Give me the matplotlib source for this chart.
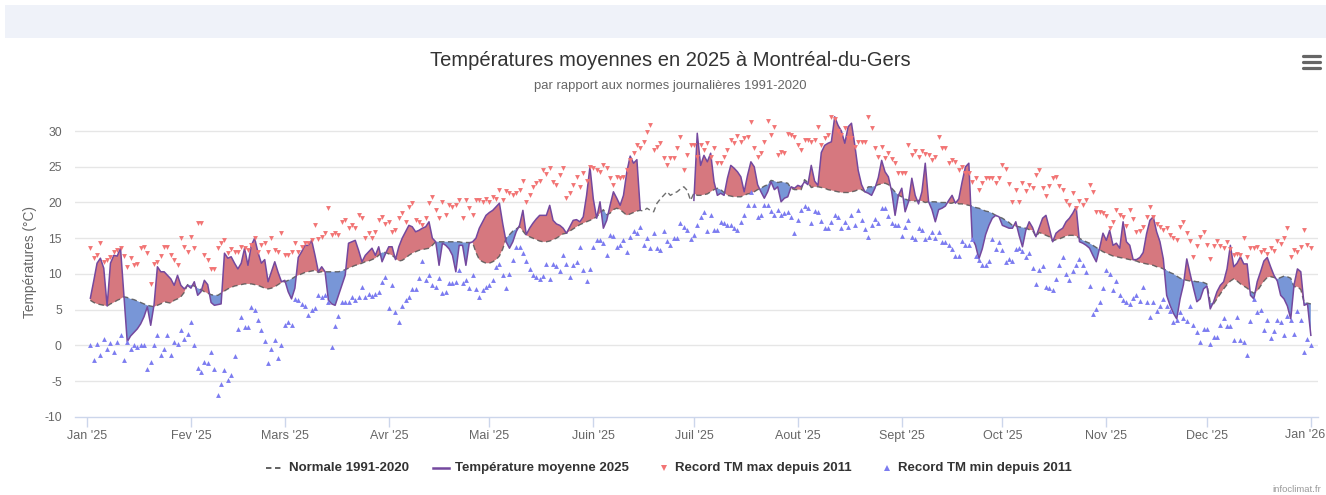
import numpy as np
import pandas as pd
import matplotlib
matplotlib.use("Agg")
import matplotlib.pyplot as plt
from matplotlib.lines import Line2D
from matplotlib.patches import Rectangle

plt.rcParams['font.family'] = ['Liberation Sans', 'DejaVu Sans']

nan = np.nan
YEAR_START = pd.Timestamp('2025-01-01')

# ---------------- data (daily values, 1 Jan -> 31 Dec 2025) ----------------
temp_2025 = [
    6.6, 9.0, 11.5, 12.2, 10.8, 5.5, 11.5, 12.6, 12.5, 13.6, 7.0, 0.5, 1.3, 1.8, 2.3, 3.0, 4.0, 5.4, 2.8, 5.7,
    11.0, 10.3, 10.3, 9.8, 9.3, 8.4, 9.8, 8.4, 7.9, 8.4, 8.0,
    8.9, 7.0, 7.5, 9.1, 8.5, 6.0, 5.6, 5.7, 5.8, 12.9, 12.2, 12.4, 11.5, 10.7, 11.5, 13.6, 11.2, 14.0, 15.0,
    13.0, 11.5, 12.0, 8.9, 10.3, 11.7, 10.2, 8.9, 9.1,
    7.5, 6.5, 8.0, 12.3, 13.1, 14.0, 14.0, 14.7, 12.6, 10.3, 11.0, 10.3, 6.3, 5.8, 5.6, 7.0, 8.4, 9.8, 14.3, 14.5,
    14.7, 13.3, 11.7, 12.6, 13.1, 13.6, 12.6, 13.8, 11.7, 12.8, 13.8,
    13.8, 12.0, 13.8, 15.0, 15.9, 16.8, 16.6, 15.9, 16.1, 16.4, 16.6, 17.3, 15.0, 14.5, 11.2, 14.3, 14.0, 13.5,
    12.6, 10.3, 14.0, 14.0, 11.2, 14.3, 14.5, 15.0, 16.4, 17.3, 18.2, 18.6,
    18.9, 19.4, 19.9, 17.0, 14.5, 13.6, 14.5, 15.9, 16.8, 18.9, 15.5, 16.4, 17.1, 17.7, 18.2, 18.2, 18.2, 19.6,
    17.5, 17.0, 16.8, 16.4, 15.7, 16.6, 17.5, 17.6, 17.3, 18.0, 21.0, 25.0, 20.5,
    17.8, 20.1, 16.4, 17.5, 19.6, 21.5, 20.6, 19.6, 21.0, 24.3, 26.5, 25.5, 26.0, 19.0,
    nan, nan, nan, nan, nan, nan, nan, nan, nan, nan, nan, nan, nan, nan, nan, 20.3,
    29.7, 25.2, 26.6, 25.7, 26.9, 22.9, 21.0, 21.3, 21.0, 23.4, 25.2, 24.8, 24.3, 23.6, 21.5, 23.8, 25.7, 25.0,
    22.5, 21.5, 20.6, 21.5, 22.9, 21.8, 22.2, 20.1, 20.6, 20.8, 22.2, 22.0, 22.4,
    22.2, 22.9, 22.5, 25.2, 23.0, 22.4, 27.0, 28.0, 28.3, 28.5, 32.0, 30.8, 30.0, 28.3, 30.6, 31.1, 28.0, 24.5,
    22.5, 21.5, 21.3, 21.0, 22.0, 23.5, 25.9, 24.3, 23.6, 21.5, 18.2, 21.0, 22.0,
    18.7, 20.1, 23.4, 21.0, 19.8, 21.5, 25.5, 20.1, 19.0, 17.3, 19.0, 19.2, 19.5, 20.3, 21.0, 19.9, 20.5, 22.9,
    25.0, 25.5, 15.0, 14.0, 12.1, 13.5, 15.5, 16.8, 17.8, 18.2, 18.0, 16.8,
    16.6, 16.4, 16.4, 17.3, 15.4, 13.8, 16.1, 17.3, 16.5, 15.2, 16.5, 17.8, 18.2, 16.4, 14.5, 15.7, 16.1, 16.4,
    17.3, 17.8, 18.5, 19.4, 14.5, 14.3, 14.0, 13.6, 12.6, 11.7, 13.6, 15.7, 14.7,
    16.1, 14.0, 14.3, 13.6, 17.3, 14.5, 14.0, 12.0, 12.0, 12.3, 13.0, 15.6, 17.5, 18.0, 15.9, 14.5, 12.1, 7.0,
    5.6, 4.5, 3.7, 6.5, 8.5, 12.1, 10.0, 8.0, 6.1, 6.5, 7.9, 8.3,
    5.1, 6.1, 7.5, 8.4, 8.9, 10.7, 14.0, 11.0, 11.5, 12.4, 11.4, 11.4, 7.0, 6.5, 8.9, 10.3, 11.8, 12.3, 11.0,
    9.8, 9.0, 7.0, 6.5, 5.5, 3.7, 8.5, 10.7, 10.3, 5.6, 5.8, 1.4,
]

normal_1991_2020 = [
    6.3, 6.0, 5.8, 5.7, 5.6, 5.5, 5.8, 6.0, 6.3, 6.5, 6.8, 6.7, 6.5, 6.4, 6.2, 6.0, 5.8, 5.6, 5.5, 5.4,
    5.6, 5.8, 6.1, 6.0, 5.9, 6.3, 6.5, 6.8, 7.4, 8.5, 8.4,
    8.3, 8.0, 7.8, 7.5, 7.3, 7.1, 7.0, 7.0, 7.3, 7.6, 7.9, 8.1, 8.3, 8.4, 8.5, 8.6, 8.6, 8.6, 8.5,
    8.4, 8.2, 8.0, 7.9, 8.0, 8.2, 8.5, 8.8, 8.9,
    9.1, 9.3, 9.6, 9.8, 10.0, 10.2, 10.3, 10.4, 10.5, 10.2, 10.3, 10.3, 10.3, 10.3, 10.3, 10.3, 10.4, 10.6, 10.8,
    11.0, 11.2, 11.3, 11.5, 11.7, 11.8, 12.0, 12.2, 12.6, 13.0, 13.0, 12.8,
    12.6, 12.2, 11.8, 11.9, 12.2, 12.6, 12.9, 13.1, 13.3, 13.4, 13.5, 13.6, 14.0, 14.5, 14.5, 14.5, 14.5, 14.5,
    14.5, 14.5, 14.5, 14.4, 14.4, 14.4, 14.4, 13.0, 12.0, 11.7, 11.5, 11.5,
    11.7, 12.0, 12.5, 13.5, 15.0, 15.5, 16.0, 16.3, 16.6, 16.0, 15.4, 15.2, 15.0, 14.8, 14.6, 14.5, 14.5, 14.6,
    14.8, 15.0, 15.3, 15.6, 15.7, 16.0, 16.3, 16.6, 16.9, 17.1, 17.3, 17.5, 17.7,
    18.0, 18.5, 19.0, 18.3, 18.5, 19.0, 19.2, 19.0, 18.6, 18.2, 18.4, 18.6, 18.8, 18.9, 18.8, 19.2, 18.9, 18.7,
    19.9, 20.5, 21.0, 21.5, 21.0, 21.3, 21.5, 21.9, 22.2, 21.7, 20.3, 21.3,
    21.0, 21.0, 21.1, 21.2, 21.5, 21.8, 22.0, 21.8, 21.4, 21.0, 20.9, 20.8, 20.8, 20.8, 21.0, 21.2, 21.3, 21.5,
    21.8, 22.0, 22.3, 22.5, 23.1, 23.0, 22.8, 22.9, 22.8, 22.7, 22.0, 21.8, 21.8,
    21.8, 23.2, 22.8, 22.1, 22.2, 22.2, 22.1, 22.0, 21.8, 21.7, 21.6, 21.5, 21.4, 21.4, 21.4, 21.5, 21.6, 21.8,
    21.8, 21.5, 22.2, 22.2, 22.3, 22.5, 22.6, 22.7, 22.5, 22.0, 21.5, 21.0, 20.8,
    20.5, 20.3, 20.2, 20.2, 20.3, 20.2, 20.0, 20.1, 20.1, 20.1, 20.0, 20.0, 20.0, 19.9, 19.9, 20.1, 19.8, 19.8,
    19.7, 19.6, 19.5, 19.3, 19.2, 19.0, 18.8, 18.7, 18.5, 18.2, 18.0, 17.8,
    17.5, 17.2, 16.8, 16.7, 16.6, 16.5, 16.4, 16.2, 16.1, 15.2, 15.8, 15.6, 15.4, 15.2, 14.6, 14.8, 14.9, 15.1,
    15.3, 15.4, 15.4, 15.3, 15.0, 14.7, 14.5, 14.3, 14.0, 13.7, 13.4, 13.1, 12.9,
    12.7, 12.5, 12.4, 12.3, 12.2, 12.1, 12.0, 11.9, 11.8, 11.6, 11.5, 11.4, 11.3, 11.2, 11.0, 10.9, 10.7, 10.5,
    10.2, 10.0, 9.7, 9.4, 9.2, 9.1, 9.0, 9.0, 8.9, 8.9, 8.8, 8.6,
    6.0, 5.8, 6.5, 7.2, 7.9, 8.5, 9.0, 9.3, 9.0, 8.6, 8.3, 8.0, 7.6, 7.3, 7.6, 8.3, 9.0, 9.5, 9.6, 9.5, 9.3,
    9.5, 9.7, 9.6, 9.4, 8.2, 8.2, 7.8, 6.0, 5.9, 5.8,
]

record_max = [
    13.6, 12.2, 12.6, 14.3, 11.7, 12.0, 12.4, 13.1, 13.3, 13.6, 12.5, 11.0, 12.2, 11.2, 11.4, 13.6, 13.8, 12.9,
    8.6, 11.4, 11.7, 12.5, 13.8, 13.8, 12.6, 11.9, 11.2, 15.0, 13.8,
    13.1, 15.2, 13.6, 17.1, 17.1, 12.6, 11.9, 10.7, 10.7, 13.6, 14.3, 14.7, 12.9, 13.5, 13.0, 13.1, 13.8, 13.6,
    13.3, 14.0, 15.0, 13.1, 14.0, 14.3, 13.1, 15.0, 13.3, 13.1, 15.7, 12.6, 12.6,
    13.1, 14.3, 13.1, 13.8, 14.3, 14.3, 14.7, 16.8, 14.9, 15.2, 15.7, 19.2, 15.4, 15.7, 15.4, 17.3, 17.5, 16.4,
    16.8, 16.4, 18.2, 17.8, 15.0, 15.7, 15.0, 15.9, 17.5, 18.0, 17.0, 17.3, 15.9,
    16.1, 17.8, 18.5, 17.3, 19.4, 19.9, 17.5, 17.3, 16.8, 17.8, 19.9, 20.8, 19.0, 17.8, 20.1, 18.2, 19.6, 19.4,
    19.6, 20.3, 17.8, 20.3, 19.2, 18.2, 20.3, 20.3, 20.0, 20.5, 20.1, 20.8, 20.5,
    21.8, 20.3, 21.6, 21.4, 21.1, 21.4, 21.8, 23.0, 20.1, 21.1, 22.2, 22.7, 23.0, 24.5, 24.0, 24.8, 22.9, 22.4,
    23.8, 24.8, 20.6, 21.4, 22.4, 23.6, 22.2, 24.1, 23.0, 25.0, 24.8, 24.5, 24.3,
    25.2, 24.8, 23.4, 22.4, 23.6, 23.4, 23.6, 24.5, 26.0, 27.0, 28.1, 27.6, 28.5, 29.9, 30.9, 27.3, 27.8, 28.3,
    26.2, 25.2, 26.2, 26.2, 27.6, 29.2, 24.5, 26.6, 28.1, 28.0, 26.4, 28.1, 27.3,
    28.3, 26.4, 27.6, 25.5, 25.5, 26.4, 27.3, 28.7, 28.3, 29.3, 28.5, 29.0, 29.2, 31.3, 27.6, 26.4, 26.9, 28.5,
    31.4, 29.5, 30.6, 26.7, 27.1, 27.0, 29.6, 29.4, 29.2, 28.1, 27.3, 28.7, 28.7,
    28.5, 28.7, 30.6, 28.1, 29.0, 29.5, 32.0, 31.7, 30.0, 29.5, 30.4, 29.0, 29.0, 27.8, 28.5, 28.5, 28.5, 32.0,
    30.5, 27.6, 26.4, 27.8, 26.2, 27.0, 26.1, 25.5, 24.1, 24.2, 24.2, 28.1, 26.6,
    27.2, 26.4, 27.2, 26.8, 26.6, 25.9, 26.4, 29.2, 27.6, 27.6, 25.5, 25.9, 25.7, 24.5, 25.0, 24.1, 24.1, 22.9,
    23.4, 21.8, 22.7, 23.5, 23.5, 23.5, 22.7, 23.5, 25.3, 24.7, 22.6, 20.1, 21.7,
    20.0, 22.7, 21.6, 22.5, 22.1, 23.8, 24.6, 22.0, 20.9, 22.3, 23.5, 23.6, 22.3, 21.7, 20.2, 19.6, 21.3, 19.2,
    20.2, 19.7, 20.4, 22.5, 21.5, 18.6, 18.6, 18.5, 18.1, 16.4, 17.3, 18.9, 18.2,
    17.9, 16.7,
    19.0, 17.7, 15.9, 16.0, 16.5, 18.0, 19.4, 18.0, 17.0, 16.5, 16.1, 16.4, 15.5, 15.0, 14.7, 16.5, 17.2, 15.7,
    14.6, 12.3, 13.9, 15.2, 15.8, 14.1, 12.1, 13.9, 14.6, 13.9, 13.6, 14.4, 13.5,
    12.6, 12.8, 12.7, 15.0, 12.3, 13.6, 13.6, 13.8, 13.0, 13.3, 12.8, 13.6, 13.2, 14.6, 14.2, 15.0, 16.4, 12.3,
    13.4, 13.1, 13.7, 16.2, 14.0, 13.6,
]

record_min = [
    0.0, -2.1, 0.2, -1.4, 0.9, -0.5, 0.3, -0.9, 0.4, 1.4, -2.1, 0.5, -0.5, 0.1, -0.2, 0.1, 0.1, -3.3, -2.3,
    0.0, 1.5, -1.4, -0.5, 1.4, -1.4, 0.5, 0.2, 2.1, 0.9,
    1.6, 3.3, 0.1, -3.2, -3.7, -2.4, -2.5, -0.9, -3.3, -6.9, -5.4, -3.5, -4.9, -4.2, -1.5, 2.3, 4.0, 2.5, 2.5,
    5.4, 4.9, 3.5, 2.1, 0.6, -2.5, -0.5, 0.8, -1.8, 0.0, 2.8, 3.3,
    2.8, 6.5, 6.3, 5.8, 5.5, 4.3, 5.0, 5.2, 7.0, 6.8, 7.0, 6.1, -0.2, 2.7, 4.1, 6.0, 6.0, 6.0, 6.8, 6.4, 6.8,
    8.2, 6.7, 7.2, 6.9, 7.2, 7.4, 8.8, 9.6, 5.2, 8.5,
    4.7, 3.3, 5.5, 6.3, 6.8, 7.9, 7.9, 9.4, 11.8, 9.1, 9.8, 8.4, 8.2, 9.4, 7.3, 7.5, 8.7, 8.7, 8.9, 10.6, 8.7,
    9.1, 8.0, 9.9, 7.9, 6.8, 7.7, 8.2, 8.4, 9.1, 11.0,
    11.4, 9.9, 8.0, 10.0, 12.0, 13.8, 13.8, 12.9, 11.8, 10.7, 9.8, 9.6, 9.3, 9.7, 11.4, 9.3, 11.4, 11.1, 10.4,
    12.6, 11.4, 9.5, 11.2, 11.7, 13.8, 10.5, 9.0, 10.7, 13.8, 14.7, 14.7,
    14.3, 12.6, 15.5, 15.3, 13.8, 14.1, 14.7, 13.1, 15.2, 16.0, 15.7, 16.6, 14.1, 15.0, 13.6, 15.7, 13.6, 13.3,
    16.0, 14.6, 14.0, 15.0, 15.0, 17.1, 16.6, 16.1, 14.9, 15.4, 16.8, 18.0, 18.7,
    16.0, 18.2, 16.1, 16.1, 17.3, 17.1, 16.9, 16.8, 16.4, 16.1, 17.2, 18.3, 19.7, 21.5, 19.7, 18.0, 18.3, 19.6,
    19.6, 18.8, 18.3, 18.9, 18.2, 18.5, 18.6, 18.0, 15.7, 17.5, 18.9, 19.5, 19.2,
    17.1, 18.8, 18.7, 17.4, 16.4, 16.4, 17.3, 18.2, 18.0, 16.4, 17.3, 16.6, 18.2, 16.8, 19.0, 17.5, 16.3, 15.2,
    16.8, 17.7, 17.1, 19.2, 19.2, 18.1, 17.1, 16.8, 16.8, 15.3, 16.6, 17.5, 15.1,
    14.9, 16.4, 16.1, 14.9, 15.2, 15.9, 15.0, 15.8, 14.5, 14.4, 14.1, 13.5, 12.5, 12.5, 14.6, 14.1, 14.1, 14.9,
    12.5, 12.0, 11.3, 11.3, 11.8, 14.9, 13.5, 14.4, 13.3, 11.6, 12.1, 11.8, 13.5,
    13.6, 13.2, 12.4, 12.9, 10.8, 8.6, 10.5, 11.1, 8.2, 8.0, 7.7, 9.3, 11.2, 12.4, 10.0, 9.2, 10.4, 11.3, 12.1,
    11.2, 10.3, 8.3, 4.4, 5.1, 6.1, 8.0, 10.5, 10.0, 7.7, 9.0, 7.0,
    6.3, 6.0,
    5.8, 6.6, 7.0, 6.2, 8.2, 6.1, 4.0, 6.1, 4.8, 5.5, 6.5, 5.5, 4.8, 3.3, 3.5, 4.7, 3.8, 3.4, 5.5, 2.9, 1.8,
    0.5, 2.3, 2.3, 0.2, 1.2, 1.2, 2.8, 3.8, 2.7, 2.7,
    0.8, 4.0, 0.8, 0.4, -1.3, 3.4, 6.5, 4.6, 4.9, 2.1, 3.5, 1.0, 2.0, 3.5, 3.3, 1.4, 4.1, 3.5, 1.6, 4.8, 3.6,
    -1.0, 0.9, 0.0,
]

month_labels = ["Jan '25", "Fev '25", "Mars '25", "Avr '25", "Mai '25", "Juin '25", "Juil '25",
                "Aout '25", "Sept '25", "Oct '25", "Nov '25", "Dec '25", "Jan '26"]
y_ticks = [-10, -5, 0, 5, 10, 15, 20, 25, 30]

title = "Températures moyennes en 2025 à Montréal-du-Gers"
subtitle = "par rapport aux normes journalières 1991-2020"
legend_labels = ["Normale 1991-2020", "Température moyenne 2025",
                 "Record TM max depuis 2011", "Record TM min depuis 2011"]

# ---------------- figure ----------------
W, H = 1326, 495
fig = plt.figure(figsize=(W / 100, H / 100), dpi=100)
fig.patch.set_facecolor('white')

def fx(px):
    return px / W

def fy(py):
    return 1 - py / H

# top band of the page
fig.add_artist(Rectangle((fx(5), fy(38)), 1, 33 / H, transform=fig.transFigure,
                         facecolor='#eff2f9', edgecolor='none', zorder=0))

ax_left, ax_right, ax_top, ax_bottom = 75, 1318, 108.2, 416.7
ax = fig.add_axes([fx(ax_left), fy(ax_bottom), (ax_right - ax_left) / W, (ax_bottom - ax_top) / H])
ax.set_facecolor('white')

def series_x(values):
    # Highcharts places each daily value one day after its date start
    return np.arange(len(values)) + 1.0

t = np.array(temp_2025, dtype=float)
n = np.array(normal_1991_2020, dtype=float)
x_t = series_x(t)
x_n = series_x(n)

red_fill = '#d6787f'
blue_fill = '#7896d7'
valid = ~np.isnan(t)
ax.fill_between(x_t, n, t, where=valid & (t >= n), interpolate=True,
                facecolor=red_fill, edgecolor='none', zorder=3)
ax.fill_between(x_t, n, t, where=valid & (t < n), interpolate=True,
                facecolor=blue_fill, edgecolor='none', zorder=3)

ax.plot(x_n, n, color='#555555', lw=1.0, ls=(0, (4, 2.5)), alpha=0.85, zorder=4)
ax.plot(x_t, t, color='#74489e', lw=1.1, zorder=5)

rmax = np.array(record_max, dtype=float)
rmin = np.array(record_min, dtype=float)
ax.plot(series_x(rmax), rmax, ls='none', marker='v', ms=3.5, mew=0,
        color='#f27474', zorder=6)
ax.plot(series_x(rmin), rmin, ls='none', marker='^', ms=3.5, mew=0,
        color='#7c7cf0', zorder=6)

# axes scales
day_px = 3.353
ax.set_xlim((ax_left - 87) / day_px, (ax_right - 87) / day_px)
ax.set_ylim(-10, -10 + (ax_bottom - ax_top) / 7.14)

month_starts = pd.date_range('2025-01-01', '2026-01-01', freq='MS')
month_pos = [(d - YEAR_START).days for d in month_starts]
ax.set_xticks(month_pos)
# the last label is pushed inside the chart like Highcharts does
ax.set_xticklabels(month_labels[:-1] + [''])
ax.tick_params(axis='x', length=7.2, width=1, color='#ccd6eb', pad=2.5,
               labelsize=9.0, labelcolor='#666666')
fig.text(fx(1305), fy(435), month_labels[-1], ha='center', va='center',
         fontsize=9.0, color='#666666')

ax.set_yticks(y_ticks)
ax.set_yticklabels([str(v) for v in y_ticks])
ax.tick_params(axis='y', length=0, pad=9.5, labelsize=8.8, labelcolor='#666666')
for v in y_ticks[1:]:
    ax.axhline(v, color='#e6e6e6', lw=1, zorder=1)

for s in ['top', 'right', 'left']:
    ax.spines[s].set_visible(False)
ax.spines['bottom'].set_color('#ccd6eb')
ax.spines['bottom'].set_linewidth(1)

# texts
fig.text(fx(670), fy(60), title, ha='center', va='center', fontsize=14.5, color='#333333')
fig.text(fx(670), fy(86), subtitle, ha='center', va='center', fontsize=9.4, color='#666666')
fig.text(fx(30), fy(262), 'Températures (°C)', rotation=90, ha='center', va='center',
         fontsize=9.8, color='#666666')
fig.text(fx(1321), fy(489), 'infoclimat.fr', ha='right', va='center', fontsize=6.8, color='#999999')

# hamburger menu
for yy in (56, 62, 68):
    fig.add_artist(Line2D([fx(1303), fx(1320)], [fy(yy), fy(yy)], transform=fig.transFigure,
                          color='#666666', lw=2.3, solid_capstyle='round'))

# legend (built by hand to mirror the Highcharts layout)
ly = fy(468)
fs_leg = 9.5
fig.add_artist(Line2D([fx(266), fx(282)], [ly, ly], transform=fig.transFigure,
                      color='#555555', lw=1.3, ls=(0, (3, 2))))
fig.text(fx(289), ly, legend_labels[0], ha='left', va='center', fontsize=fs_leg,
         fontweight='bold', color='#333333')
fig.add_artist(Line2D([fx(433), fx(449)], [ly, ly], transform=fig.transFigure,
                      color='#74489e', lw=1.8))
fig.text(fx(455), ly, legend_labels[1], ha='left', va='center', fontsize=fs_leg,
         fontweight='bold', color='#333333')
fig.add_artist(Line2D([fx(664)], [ly], transform=fig.transFigure, ls='none', marker='v',
                      ms=4.5, mew=0, color='#f27474'))
fig.text(fx(675), ly, legend_labels[2], ha='left', va='center', fontsize=fs_leg,
         fontweight='bold', color='#333333')
fig.add_artist(Line2D([fx(887)], [ly], transform=fig.transFigure, ls='none', marker='^',
                      ms=4.5, mew=0, color='#7c7cf0'))
fig.text(fx(898), ly, legend_labels[3], ha='left', va='center', fontsize=fs_leg,
         fontweight='bold', color='#333333')

fig.savefig('out.png', dpi=100)
